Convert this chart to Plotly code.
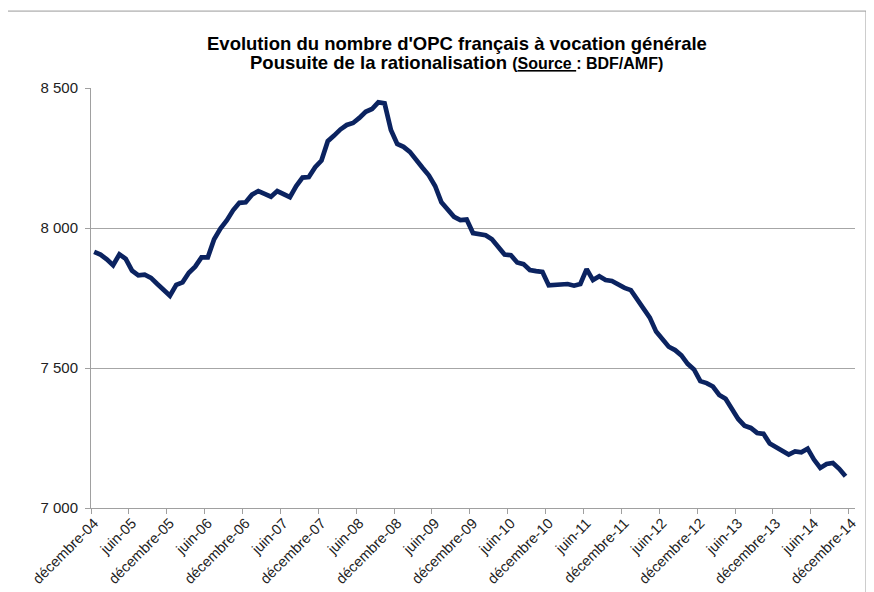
import plotly.graph_objects as go

# ---- data -------------------------------------------------------------
MONTHS_FR = ["janvier", "février", "mars", "avril", "mai", "juin", "juillet",
             "août", "septembre", "octobre", "novembre", "décembre"]
YEARS = list(range(5, 15))
categories = ["décembre-04"] + [f"{m}-{y:02d}" for y in YEARS for m in MONTHS_FR]

values = [
    7915, 7905, 7888, 7867, 7906, 7890, 7848, 7831, 7833, 7822, 7800, 7778,   # déc04-nov05
    7758, 7797, 7806, 7840, 7862, 7895, 7895, 7960, 7998, 8027, 8063, 8090,   # déc05-nov06
    8092, 8119, 8132, 8122, 8112, 8132, 8122, 8110, 8150, 8180, 8182, 8217,   # déc06-nov07
    8241, 8310, 8330, 8352, 8368, 8375, 8393, 8415, 8425, 8449, 8445, 8350,   # déc07-nov08
    8300, 8290, 8272, 8240, 8215, 8188, 8150, 8092, 8065, 8040, 8028, 8030,   # déc08-nov09
    7982, 7980, 7974, 7960, 7935, 7905, 7903, 7877, 7871, 7850, 7846, 7843,   # déc09-nov10
    7795, 7797, 7796, 7800, 7794, 7800, 7853, 7814, 7828, 7814, 7811, 7798,   # déc10-nov11
    7786, 7778, 7745, 7712, 7680, 7630, 7606, 7576, 7564, 7545, 7515, 7495,   # déc11-nov12
    7453, 7446, 7434, 7404, 7390, 7351, 7318, 7294, 7286, 7268, 7265, 7230,   # déc12-nov13
    7218, 7203, 7191, 7202, 7199, 7212, 7173, 7143, 7157, 7161, 7140, 7113,   # déc13-nov14
    None,                                                                      # déc14
]

y_ticks = [7000, 7500, 8000, 8500]

title_line1 = "Evolution du nombre d'OPC français à vocation générale"
title_line2 = "Pousuite de la rationalisation "
title_source = "(<u>Source </u>: BDF/AMF)"

# ---- figure -----------------------------------------------------------
PAGE_W, PAGE_H = 874, 592
OFF = 8                      # default body margin of the html page
W, H = PAGE_W - OFF, PAGE_H - OFF
# plot area in page pixels
PX0, PX1, PY0, PY1 = 91, 855, 88, 508.5
L, R, T, B = PX0 - OFF, PAGE_W - PX1, PY0 - OFF, PAGE_H - PY1
pw, ph = PX1 - PX0, PY1 - PY0

def px_x(x):
    return (x - PX0) / pw

def px_y(y):
    return (PY1 - y) / ph

fig = go.Figure(go.Scatter(
    x=categories, y=values, mode="lines",
    line=dict(color="#0b2360", width=4.7),
    connectgaps=False, hoverinfo="skip",
))

fig.update_layout(
    width=W, height=H,
    margin=dict(l=L, r=R, t=T, b=B, autoexpand=False),
    paper_bgcolor="white", plot_bgcolor="white",
    showlegend=False,
    separators=", ",
    font=dict(family="Liberation Sans, Arial, sans-serif", color="#222222"),
    xaxis=dict(
        type="category", categoryorder="array", categoryarray=categories,
        tickmode="linear", tick0=0, dtick=6,
        tickson="boundaries",
        tickangle=-45, ticks="outside", ticklen=5, tickcolor="#a0a0a0",
        showline=True, linecolor="#a0a0a0", linewidth=1,
        showgrid=False, zeroline=False, automargin=False,
        tickfont=dict(size=14.5, color="#222222"),
        range=[-0.5, len(categories) - 0.5],
    ),
    yaxis=dict(
        range=[7000, 8500], tickvals=y_ticks, tickformat=",d",
        ticks="outside", ticklen=5, tickcolor="#a0a0a0",
        showline=True, linecolor="#a0a0a0", linewidth=1,
        showgrid=True, gridcolor="#a6a6a6", gridwidth=1,
        zeroline=False, automargin=False, ticklabelstandoff=4,
        tickfont=dict(size=15, color="#222222"),
    ),
    shapes=[dict(
        type="rect", xref="paper", yref="paper", layer="below",
        x0=px_x(5), x1=px_x(866), y0=px_y(11), y1=px_y(600),
        line=dict(color="#9a9a9a", width=1), fillcolor="rgba(0,0,0,0)",
    )],
    annotations=[
        dict(xref="paper", yref="paper", x=px_x(457), y=px_y(43),
             text=f"<b>{title_line1}</b>", showarrow=False,
             xanchor="center", yanchor="middle",
             font=dict(size=18.5, color="#000000")),
        dict(xref="paper", yref="paper", x=px_x(456), y=px_y(62),
             text=f"<b>{title_line2}<span style='font-size:16px'>{title_source}</span></b>",
             showarrow=False, xanchor="center", yanchor="middle",
             font=dict(size=18.5, color="#000000")),
    ],
)

fig.write_html("out.html")
